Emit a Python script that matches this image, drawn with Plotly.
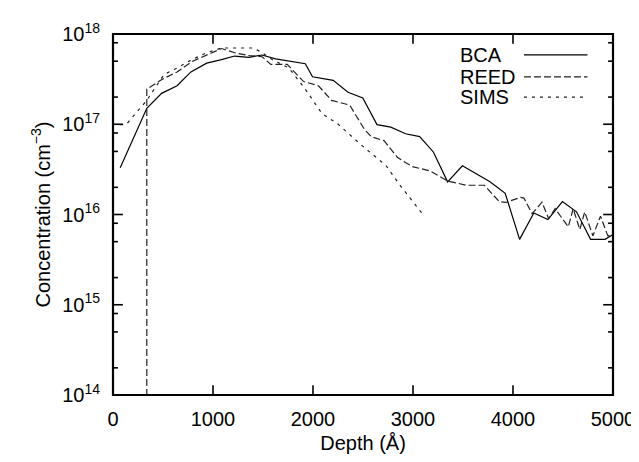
import math
import plotly.graph_objects as go

# ---- data ----
bca_depth = [72, 338, 486, 641, 779, 937, 1085, 1216, 1358, 1489, 1627, 1775, 1923, 1995,
             2202, 2350, 2498, 2640, 2778, 2926, 3067, 3205, 3346, 3494, 3632, 3770, 3922,
             4066, 4208, 4349, 4494, 4635, 4776, 4921, 5000]
bca_conc = [3.3e16, 1.5e17, 2.2e17, 2.67e17, 3.8e17, 4.75e17, 5.2e17, 5.7e17, 5.5e17, 5.85e17,
            5.3e17, 4.95e17, 4.68e17, 3.36e17, 3.07e17, 2.26e17, 1.96e17, 9.9e16, 9.3e16,
            7.85e16, 7.3e16, 4.9e16, 2.3e16, 3.46e16, 2.8e16, 2.3e16, 1.72e16, 5.3e15,
            1.04e16, 8.8e15, 1.39e16, 1.07e16, 5.3e15, 5.3e15, 6.0e15]

reed_depth = [338, 338, 493, 641, 789, 937, 1085, 1216, 1364, 1492, 1578, 1742, 1906, 2054,
              2186, 2367, 2515, 2581, 2712, 2843, 2990, 3172, 3346, 3533, 3714, 3862, 3928,
              4076, 4109, 4191, 4290, 4356, 4421, 4553, 4602, 4668, 4717, 4799, 4875, 4948, 5000]
reed_conc = [1e10, 2.45e17, 3.15e17, 3.8e17, 4.95e17, 5.85e17, 6.9e17, 6.2e17, 5.75e17, 5.6e17,
             4.6e17, 4.6e17, 2.97e17, 2.67e17, 1.84e17, 1.63e17, 8.75e16, 7.3e16, 6.55e16,
             4.3e16, 3.4e16, 3.04e16, 2.35e16, 2.11e16, 2.11e16, 1.39e16, 1.36e16, 1.55e16,
             1.52e16, 1.02e16, 1.37e16, 9.0e15, 1.16e16, 7.3e15, 1.16e16, 6.8e15, 1.07e16,
             5.8e15, 9.6e15, 5.8e15, 6.0e15]

sims_depth = [72, 131, 338, 394, 510, 641, 789, 937, 1085, 1397, 1479, 1594, 1759, 1923, 2022,
              2088, 2252, 2482, 2729, 2877, 3100]
sims_conc = [9.9e16, 9.9e16, 1.84e17, 2.26e17, 3.56e17, 4.2e17, 5.2e17, 6.2e17, 7.0e17, 7.0e17,
             6.35e17, 5.2e17, 4.2e17, 2.45e17, 1.67e17, 1.32e17, 1.0e17, 5.9e16, 3.5e16,
             2.06e16, 1.0e16]

series_names = ["BCA", "REED", "SIMS"]
x_ticks = [0, 1000, 2000, 3000, 4000, 5000]
y_ticks = [1e14, 1e15, 1e16, 1e17, 1e18]
y_ticktext = ["10<sup>14</sup>", "10<sup>15</sup>", "10<sup>16</sup>", "10<sup>17</sup>", "10<sup>18</sup>"]
y_minor = [m * 10 ** e for e in range(14, 18) for m in (2, 5, 8)]

X_RANGE = [0, 5000]
Y_RANGE = [14, 18]

FONT = "Liberation Sans, Arial, Helvetica, sans-serif"
styles = [
    dict(color="black", width=1.2, dash="solid"),
    dict(color="#222", width=1.2, dash="7px,3px"),
    dict(color="#222", width=1.2, dash="3px,5px"),
]

W, H = 639, 462
ML, MR, MT, MB = 105, 27, 15, 75
PW, PH = W - ML - MR, H - MT - MB
MAJ, MIN = 10, 5  # tick lengths in px

fig = go.Figure()
for name, xs, ys, st in zip(series_names,
                            [bca_depth, reed_depth, sims_depth],
                            [bca_conc, reed_conc, sims_conc], styles):
    fig.add_trace(go.Scatter(x=xs, y=ys, mode="lines", name=name, line=st,
                             showlegend=False))

# inward tick marks on all four sides (gnuplot style), drawn on a 0..1 overlay frame
tx_, ty_ = [], []
for xv in x_ticks:
    f = (xv - X_RANGE[0]) / (X_RANGE[1] - X_RANGE[0])
    h = MAJ / PH
    tx_ += [f, f, None, f, f, None]
    ty_ += [0, h, None, 1, 1 - h, None]
for vals, length in ((y_ticks, MAJ), (y_minor, MIN)):
    w = length / PW
    for yv in vals:
        f = (math.log10(yv) - Y_RANGE[0]) / (Y_RANGE[1] - Y_RANGE[0])
        tx_ += [0, w, None, 1, 1 - w, None]
        ty_ += [f, f, None, f, f, None]
fig.add_trace(go.Scatter(x=tx_, y=ty_, xaxis="x2", yaxis="y2", mode="lines",
                         line=dict(color="black", width=1.6), hoverinfo="skip",
                         showlegend=False, cliponaxis=False))

# gnuplot-style key: text on the left, line sample on the right
key_rows = [0.942, 0.881, 0.825]
for name, st, yp in zip(series_names, styles, key_rows):
    fig.add_annotation(x=0.690, y=yp, xref="paper", yref="paper", text=name,
                       showarrow=False, xanchor="left", yanchor="middle",
                       font=dict(family=FONT, size=20, color="black"))
    fig.add_shape(type="line", xref="paper", yref="paper", x0=0.822, x1=0.949,
                  y0=yp, y1=yp, line=st)

# frame box
fig.add_shape(type="rect", xref="paper", yref="paper", x0=0, x1=1, y0=0, y1=1,
              line=dict(color="black", width=2.2), layer="above")

fig.update_layout(
    width=W, height=H,
    margin=dict(l=ML, r=MR, t=MT, b=MB),
    plot_bgcolor="white", paper_bgcolor="white",
    font=dict(family=FONT, size=20, color="black"),
    showlegend=False,
    xaxis=dict(
        range=X_RANGE, tickvals=x_ticks, ticks="outside", ticklen=6,
        tickcolor="rgba(0,0,0,0)", showline=False,
        showgrid=False, zeroline=False,
        title=dict(text="Depth (Å)", font=dict(size=20), standoff=6),
        tickfont=dict(size=20),
    ),
    yaxis=dict(
        type="log", range=Y_RANGE, tickvals=y_ticks, ticktext=y_ticktext,
        ticks="outside", ticklen=8, tickcolor="rgba(0,0,0,0)",
        showline=False, showgrid=False, zeroline=False,
        title=dict(text="Concentration (cm<sup>−3</sup>)", font=dict(size=20), standoff=6),
        tickfont=dict(size=20),
    ),
    xaxis2=dict(overlaying="x", range=[0, 1], visible=False, fixedrange=True),
    yaxis2=dict(overlaying="y", range=[0, 1], visible=False, fixedrange=True),
)

fig.write_html("out.html")
